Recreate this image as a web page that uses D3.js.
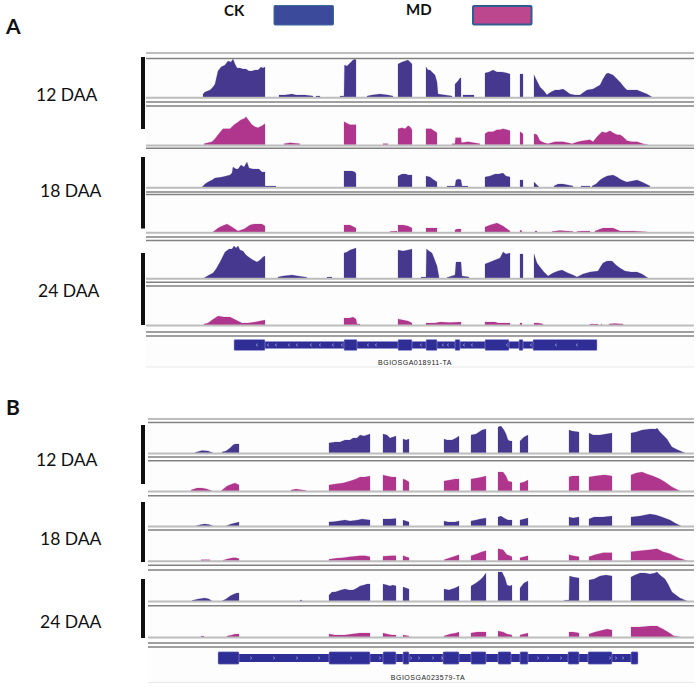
<!DOCTYPE html>
<html><head><meta charset="utf-8">
<script src="https://cdn.jsdelivr.net/npm/d3@7"></script>
<style>html,body{margin:0;padding:0;background:#fff}svg{display:block}</style>
</head><body><svg id="c" width="700" height="687"></svg>
<script>
// Coverage: each track is a list of covered segments of [position, depth].
const a12ck=[[[203,3],[205,5],[210,7],[213,10],[215,13],[218,26],[221,30],[225,32],[228,36],[231,35],[233,38],[235,33],[237,29],[240,29],[243,28],[246,28],[249,26],[252,26],[255,27],[258,27],[261,30],[263,29],[265,30]],[[279,2],[285,2],[292,3],[296,2],[305,2],[313,1]],[[316,1],[320,1]],[[340,1],[344,1],[344.5,32],[347,31],[350,34],[353,37],[355,38],[356,37]],[[367,1],[372,2],[380,3],[388,2],[393,1]],[[398,33],[402,35],[405,36],[408,37],[410,35],[412,33]],[[426,30],[428,27],[430,27],[433,24],[435,22],[437,15],[438,3],[445,2],[452,1]],[[455,13],[458,16],[460,19],[461,19]],[[463,2],[474,2]],[[485,24],[489,25],[493,27],[497,25],[502,25],[507,24],[510,23]],[[520,23],[523,23]],[[534,22],[537,16],[540,10],[544,6],[547,2],[548,3],[551,5],[555,7],[559,7],[563,8],[566,6],[570,3],[575,2],[580,2],[584,5],[587,7],[593,8],[600,12],[603,18],[606,23],[608,24],[613,22],[617,18],[620,15],[624,10],[627,7],[632,7],[637,7],[642,5],[647,3],[652,0]]];
const a12md=[[[204,1],[212,3],[215,6],[218,10],[223,16],[230,16],[234,20],[237,22],[241,25],[244,26],[246,28],[249,24],[252,20],[255,18],[258,17],[262,19],[265,21]],[[284,1],[290,2],[300,1]],[[344,23],[346,22],[350,20],[356,20]],[[383,1],[388,1]],[[398,16],[402,17],[405,16],[408,19],[410,18],[412,15]],[[426,16],[431,16],[434,14],[437,12]],[[452,1],[455,1],[455.5,7],[461,7],[461.5,2],[468,3],[474,2],[480,1]],[[485,11],[488,13],[493,13],[497,15],[500,15],[503,16],[507,15],[510,14]],[[520,13],[523,11]],[[534,11],[537,10],[540,4],[544,2],[548,1],[555,3],[563,3],[568,2],[572,1],[578,3],[583,4],[590,5],[593,3],[597,8],[602,13],[606,12],[610,14],[613,12],[617,10],[620,10],[623,8],[627,4],[632,3],[637,3],[643,1],[648,0]]];
const a18ck=[[[202,0],[205,3],[208,5],[212,7],[215,9],[222,10],[230,12],[232,14],[233,20],[236,18],[238,18],[241,22],[244,20],[247,25],[249,19],[253,18],[256,18],[259,18],[262,15],[265,15]],[[265,1],[276,1]],[[344,16],[352,16],[355,15],[356,13]],[[398,11],[402,13],[406,13],[408,12],[412,12]],[[426,11],[430,10],[434,7],[437,5]],[[447,1],[455,1],[456,7],[459,8],[461,7],[462,1],[468,1]],[[485,10],[490,11],[495,13],[499,13],[503,14],[506,11],[510,10]],[[520,7],[523,7]],[[534,5],[536,3],[539,0]],[[554,1],[558,3],[563,3],[568,2],[573,1]],[[581,1],[590,1]],[[592,1],[596,3],[600,7],[603,9],[607,11],[613,12],[617,10],[620,8],[624,6],[627,5],[632,6],[637,7],[642,5],[650,1]]];
const a18md=[[[213,0],[218,4],[222,6],[227,8],[232,5],[238,1],[244,3],[250,7],[254,8],[258,8],[262,8],[265,6]],[[344,7],[350,7],[352,6],[356,4]],[[390,0.5],[397,1]],[[398,7],[403,7],[408,6],[412,4]],[[426,4],[437,4]],[[455,2],[457,3],[461,3]],[[485,5],[490,7],[497,9],[503,6],[510,1]],[[520,2],[522,1]],[[535,1],[537,1]],[[552,0.5],[560,1.5],[567,1],[573,0.5]],[[577,0.5],[582,1],[590,1]],[[595,1],[603,4],[613,4],[620,1],[633,1],[647,0]]];
const a24ck=[[[204,0],[209,3],[213,5],[216,9],[220,16],[223,22],[225,26],[229,29],[232,29],[234,32],[236,30],[238,32],[240,28],[243,27],[246,23],[250,20],[253,18],[257,16],[260,18],[263,21],[265,22]],[[278,1],[283,2],[292,3],[298,2],[305,1],[307,0.5]],[[327,1],[332,1]],[[344,25],[347,26],[350,28],[353,29],[356,30]],[[398,28],[403,27],[408,28],[412,29]],[[421,1],[426,1],[426.5,29],[429,27],[432,25],[434,20],[437,12],[439,1]],[[447,0.5],[455,3],[456,16],[461,16],[462,2],[469,1]],[[485,14],[490,16],[495,18],[500,20],[503,26],[506,24],[510,25]],[[520,24],[523,24]],[[534,24],[537,15],[540,11],[544,6],[548,2],[553,5],[558,7],[562,8],[568,5],[573,3],[577,1],[583,4],[590,6],[598,7],[601,12],[603,15],[607,17],[612,17],[616,13],[620,10],[625,7],[631,6],[637,6],[642,4],[648,0]]];
const a24md=[[[204,1],[208,2],[212,5],[218,9],[224,8],[230,8],[236,5],[242,2],[248,2],[255,3],[260,4],[265,5]],[[344,7],[350,7],[353,8],[356,6],[357,1],[360,1]],[[398,6],[403,5],[408,4],[412,2]],[[426,2],[435,2],[440,3],[450,2.5],[461,3]],[[485,3],[495,3],[498,2],[510,2]],[[520,2],[522,2]],[[534,2],[538,2],[543,1]],[[590,1],[598,1]],[[601,1],[602,1]],[[609,1],[614,1.5],[623,1]]];
const b12ck=[[[195,0.5],[202,2.5],[208,2],[213,0]],[[222,1],[226,2],[230,5],[233,8],[235,9],[239,9]],[[329,10],[335,11],[340,11],[345,13],[350,13],[353,15],[357,15],[360,18],[364,17],[367,18],[370,19]],[[383,19],[387,18],[390,15],[393,16],[396,17]],[[403,14],[406,13],[409,14]],[[444,14],[447,13],[452,13],[456,15],[459,17]],[[471,18],[476,19],[479,21],[482,23],[486,24]],[[498,26],[501,27],[504,23],[506,19],[508,13],[510,12],[512,12]],[[520,12],[524,16],[528,18]],[[569,23],[572,22],[579,21]],[[589,20],[593,18],[600,18],[606,19],[612,20]],[[631,20],[636,21],[642,23],[650,24],[656,24],[657,25],[660,21],[664,17],[667,14],[670,9],[672,6],[678,3],[685,0]]];
const b12md=[[[191,1],[197,3],[202,3],[207,2],[212,0]],[[221,0],[227,5],[232,7],[235,8],[239,6]],[[291,1],[296,2],[303,1],[306,0.5]],[[329,6],[335,7],[343,8],[350,10],[356,12],[360,14],[365,14],[370,15]],[[383,16],[387,15],[392,14],[396,14]],[[403,12],[406,11],[409,9]],[[444,10],[450,11],[455,12],[459,12]],[[471,12],[477,13],[482,14],[486,15]],[[498,19],[503,19],[506,15],[508,10],[512,9]],[[520,8],[524,9],[528,11]],[[569,14],[572,15],[579,15]],[[589,14],[595,15],[603,16],[606,16],[612,15]],[[631,16],[636,18],[642,19],[647,17],[653,15],[660,12],[665,9],[672,4],[680,0]]];
const b18ck=[[[196,0],[201,1.5],[205,2],[209,1.5],[213,0]],[[226,0],[231,2],[235,3],[239,4]],[[329,4],[335,4.5],[345,6],[350,5],[358,6],[362,7],[370,6]],[[383,7],[390,7],[396,7.5]],[[403,6],[406,5],[409,4]],[[444,5],[448,4],[455,4],[459,5]],[[471,5],[476,6],[480,7],[486,8]],[[498,9],[501,10],[504,8],[508,6],[512,6]],[[520,6],[524,7],[528,8]],[[569,9],[573,8],[579,9]],[[589,7],[594,9],[603,9],[612,10]],[[631,9],[640,10],[650,12],[656,11],[662,9],[670,6],[675,3],[681,0]]];
const b18md=[[[201,1],[210,1]],[[223,0.5],[228,2],[233,3],[236,3],[239,2]],[[329,1.5],[336,2.5],[343,3],[350,4],[355,4.5],[360,5],[365,5],[370,4]],[[383,4.5],[392,5],[396,5]],[[403,5],[406,4],[409,3]],[[444,1],[450,3],[456,5],[459,6]],[[471,5],[477,7],[482,9],[486,10]],[[498,12],[503,11],[507,6],[510,5],[512,4]],[[520,3],[524,4],[528,5]],[[569,6],[573,5],[579,4]],[[589,4],[595,6],[603,8],[612,8]],[[631,9],[640,10],[650,11],[657,12],[663,9],[670,7],[678,3],[687,0]]];
const b24ck=[[[192,0.5],[198,2],[205,3],[209,2],[212,0]],[[222,0],[226,2],[230,5],[234,7],[237,8],[239,8]],[[300,1],[302,1]],[[329,6],[332,9],[335,9],[338,10],[341,11],[345,12],[349,11],[353,11],[357,13],[360,15],[364,16],[367,17],[370,17]],[[383,17],[387,16],[390,15],[393,16],[396,15]],[[403,14],[406,13],[409,12]],[[444,12],[449,11],[455,13],[459,15]],[[471,15],[476,18],[480,21],[483,24],[486,28]],[[498,29],[502,29],[505,23],[507,16],[510,15],[512,16]],[[520,13],[524,18],[528,20]],[[564,0.5],[569,1],[569.5,25],[573,24],[579,23]],[[589,21],[594,22],[600,25],[606,26],[612,25]],[[631,24],[635,26],[640,28],[645,28],[650,27],[655,28],[657,29],[660,26],[665,22],[668,17],[672,9],[676,6],[680,3],[687,0]]];
const b24md=[[[201,1],[204,1]],[[227,1],[232,2],[235,3],[239,3]],[[329,3],[335,2],[345,2],[352,3],[360,4],[365,4],[370,4]],[[383,4],[387,3],[392,2],[396,2]],[[403,2],[409,1]],[[444,1],[450,3],[456,4],[459,5]],[[471,4],[477,5],[482,5],[486,5]],[[498,6],[503,5],[507,3],[512,2]],[[520,2],[524,3],[528,4]],[[569,5],[573,5],[579,4]],[[589,3],[595,5],[603,7],[607,8],[612,7]],[[631,10],[640,10],[650,11],[657,11],[663,8],[668,5],[674,1],[680,0]]];

const geneA=["BGIOSGA018911-TA"], geneB=["BGIOSGA023579-TA"];
const geneASpan=[234,597], geneBSpan=[218,638];
const exonsA=[[234,265],[344,357],[398,412],[426,437],[455,460],[485,509],[519,523],[533,597]];
const exonsB=[[218,239],[329,370],[383,396],[403,409],[443,459],[471,486],[498,511],[520,528],[568,579],[588,612],[631,638]];
const arrowsA=[257,268,276,289,297,311,320,333,342,368,376,421,443,448,464,472,507,531,556,577];
const arrowsB=[251,274,297,319,351,380,411,419,433,442,538,548,561,610,616,623];
const timeLabels=["12 DAA","18 DAA","24 DAA"];
const legendNames=["CK","MD"];
const panelNames=["A","B"];

const colors={ck:"#46398f",md:"#b0358c",gene:"#2f2d96",geneEdge:"#a9a6dc",light:"#bdbdbd",dark:"#828282"};
const svg=d3.select("#c");
const defs=svg.append("defs");
defs.append("filter").attr("id","soft").attr("x","-5%").attr("y","-5%").attr("width","110%").attr("height","110%")
  .append("feGaussianBlur").attr("stdDeviation",0.35);
const x=d3.scaleLinear().domain([146,694]).range([146,694]);
const gMain=svg.append("g");

const tracks=[
 {d:a12ck,c:colors.ck,base:97},{d:a12md,c:colors.md,base:144.7},{d:a18ck,c:colors.ck,base:187},
 {d:a18md,c:colors.md,base:232},{d:a24ck,c:colors.ck,base:278},{d:a24md,c:colors.md,base:325},
 {d:b12ck,c:colors.ck,base:453},{d:b12md,c:colors.md,base:491},{d:b18ck,c:colors.ck,base:526},
 {d:b18md,c:colors.md,base:560.7},{d:b24ck,c:colors.ck,base:601},{d:b24md,c:colors.md,base:637}];
const rulesA={x0:146,ys:[[53,"l"],[58.5,"d"],[97.8,"l"],[102,"d"],[106,"d"],[145.5,"l"],[148.3,"d"],[187.8,"l"],[192,"d"],[194.6,"d"],[232.8,"l"],[237,"d"],[240.5,"d"],[278.8,"l"],[282.3,"d"],[286,"d"],[325.6,"l"],[332,"d"],[336,"d"]]};
const rulesB={x0:148,ys:[[419,"l"],[422.5,"d"],[453.5,"l"],[457,"d"],[460.7,"d"],[491.5,"l"],[495.7,"d"],[526.5,"l"],[530,"d"],[561.2,"l"],[565.3,"d"],[570,"d"],[601.5,"l"],[605.8,"d"],[637.5,"l"],[643,"d"],[647,"d"]]};

[[146,50,548,317],[148,416,546,266]].forEach(r=>gMain.append("rect").attr("x",r[0]).attr("y",r[1]).attr("width",r[2]).attr("height",r[3]).attr("fill","#fdfdfd"));

const gCov=gMain.append("g").attr("filter","url(#soft)");
tracks.forEach(t=>{
  const y=d3.scaleLinear().domain([0,40]).range([t.base,t.base-40]);
  const area=d3.area().x(d=>x(d[0])).y0(y(0)).y1(d=>y(d[1]));
  gCov.append("g").selectAll("path").data(t.d).join("path").attr("d",area).attr("fill",t.c)
    .attr("stroke",t.c).attr("stroke-opacity",.35).attr("stroke-width",.6);
});
const gRules=gMain.append("g").attr("filter","url(#soft)");
[rulesA,rulesB].forEach(r=>r.ys.forEach(([yy,k])=>{
  gRules.append("line").attr("x1",r.x0).attr("x2",694).attr("y1",yy).attr("y2",yy)
    .attr("stroke",k==="l"?colors.light:colors.dark).attr("stroke-width",k==="l"?2:1.5);
}));

function gene(span,exons,arrows,name,cy,exonH,intronH,textX,textY,bottom,x0,glyph){
  const g=gMain.append("g").attr("filter","url(#soft)");
  g.append("rect").attr("x",x(span[0])).attr("width",x(span[1])-x(span[0])).attr("y",cy-intronH/2).attr("height",intronH).attr("fill",colors.gene);
  g.selectAll(".e").data(exons).join("rect").attr("class","e").attr("x",d=>x(d[0])).attr("width",d=>x(d[1])-x(d[0]))
    .attr("y",cy-exonH/2).attr("height",exonH).attr("rx",1).attr("fill",colors.gene).attr("stroke",colors.geneEdge).attr("stroke-width",.5);
  g.selectAll(".a").data(arrows).join("path").attr("class","a")
    .attr("d",d=>d3.line()([[x(d)+(glyph<0?.9:-.9),cy-1.3],[x(d)+(glyph<0?-.9:.9),cy],[x(d)+(glyph<0?.9:-.9),cy+1.3]]))
    .attr("fill","none").attr("stroke","#b9b9e6").attr("stroke-width",.6);
  gMain.append("text").text(name).attr("x",textX).attr("y",textY).attr("text-anchor","middle")
    .attr("font-family","Liberation Sans").attr("font-size",7).attr("letter-spacing",".5").attr("fill","#222");
  gMain.append("line").attr("x1",x0).attr("x2",694).attr("y1",bottom).attr("y2",bottom).attr("stroke","#e8e8e8").attr("stroke-width",1);
}
gene(geneASpan,exonsA,arrowsA,geneA[0],345,11,7,415,364.5,367,146,-1);
gene(geneBSpan,exonsB,arrowsB,geneB[0],658,12.5,8,428,679.5,682.5,148,1);

[[57,129],[157,228.5],[253,325],[425,484],[502,562],[579,638]].forEach(b=>
  gMain.append("rect").attr("x",141).attr("width",4).attr("y",b[0]).attr("height",b[1]-b[0]).attr("fill","#111"));

const font="Lato,'Open Sans',sans-serif";
[[36,100.5],[40,196.5],[38,296.5],[36,465.5],[40,544.5],[40,627.5]].forEach((p,i)=>
  svg.append("text").text(timeLabels[i%3]).attr("x",p[0]).attr("y",p[1]).attr("font-family",font).attr("font-size",17.5).attr("fill","#111"));
[[6,34],[6,415]].forEach((p,i)=>svg.append("text").text(panelNames[i]).attr("x",p[0]).attr("y",p[1]).attr("font-family",font).attr("font-weight",700).attr("font-size",21).attr("fill","#111"));
svg.append("text").text(legendNames[0]).attr("x",224).attr("y",16).attr("font-family",font).attr("font-weight",700).attr("font-size",15).attr("fill","#111");
svg.append("text").text(legendNames[1]).attr("x",406).attr("y",15).attr("font-family",font).attr("font-weight",700).attr("font-size",15).attr("fill","#111");
svg.append("rect").attr("x",274).attr("y",5.5).attr("width",59.5).attr("height",19.5).attr("rx",1).attr("fill","#3c4a9b").attr("stroke","#3d6a9a").attr("stroke-width",1);
svg.append("rect").attr("x",473).attr("y",6).attr("width",58.5).attr("height",18.5).attr("rx",1).attr("fill","#bd478f").attr("stroke","#2f5f8f").attr("stroke-width",2);
</script></body></html>
